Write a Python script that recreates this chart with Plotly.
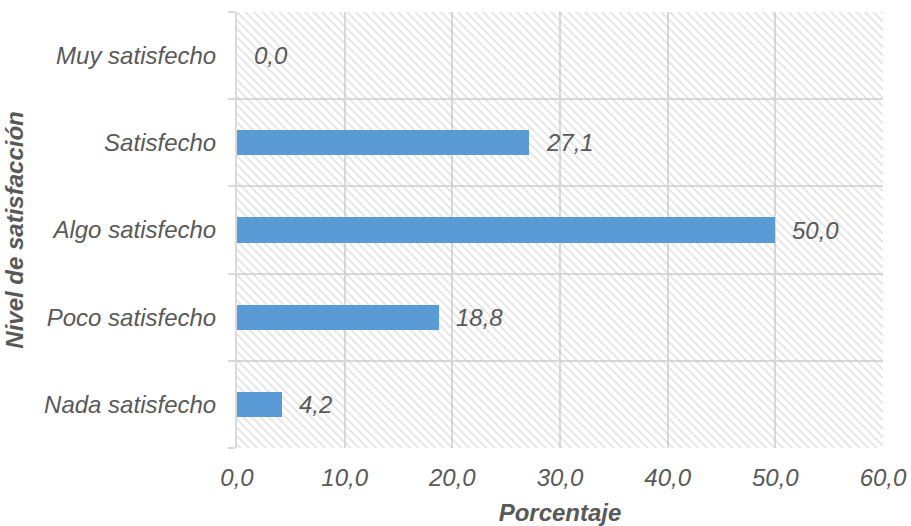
import plotly.graph_objects as go

# Survey results: percentage of respondents per satisfaction level
niveles = ["Nada satisfecho", "Poco satisfecho", "Algo satisfecho", "Satisfecho", "Muy satisfecho"]
porcentajes = [4.2, 18.8, 50.0, 27.1, 0.0]
x_ticks = [0, 10, 20, 30, 40, 50, 60]

GRID = "#d9d9d9"
TEXT = "#595959"
FONT = "Liberation Sans, Arial, sans-serif"
FS = 24

pos = list(range(len(niveles)))

fig = go.Figure()

# Hatched plot-area background (transparent bar with diagonal pattern on base axes)
fig.add_trace(go.Bar(
    x=[1], y=[0.5], base=[0], width=[1], orientation="h",
    marker=dict(color="rgba(0,0,0,0)", line=dict(width=0),
                pattern=dict(shape="\\", fgcolor="#c6c6c6", bgcolor="rgba(0,0,0,0)",
                             size=6, solidity=0.3, fillmode="overlay")),
    hoverinfo="skip", showlegend=False, xaxis="x", yaxis="y",
))

# Data bars
fig.add_trace(go.Bar(
    x=porcentajes, y=pos, orientation="h", width=0.29,
    marker=dict(color="#5b9bd5", line=dict(width=0)),
    showlegend=False, xaxis="x2", yaxis="y2", cliponaxis=False,
))

annotations = [
    dict(x=v, y=p, xref="x2", yref="y2", text=f"{v:.1f}".replace(".", ","),
         xanchor="left", yanchor="middle", xshift=15, showarrow=False,
         font=dict(family=FONT, size=FS, color=TEXT, style="italic"))
    for v, p in zip(porcentajes, pos)
]

fig.update_layout(
    width=911, height=526,
    margin=dict(l=237, r=28, t=12, b=78),
    paper_bgcolor="white", plot_bgcolor="white",
    separators=",.",
    bargap=0,
    annotations=annotations,
    xaxis=dict(range=[0, 1], visible=False, fixedrange=True),
    yaxis=dict(range=[0, 1], visible=False, fixedrange=True),
    xaxis2=dict(
        overlaying="x", range=[0, 60], tickvals=x_ticks, tickformat=".1f",
        showgrid=True, gridcolor=GRID, gridwidth=2, zeroline=False,
        showline=False, ticks="", ticklabelstandoff=13, automargin=False,
        tickfont=dict(family=FONT, size=FS, color=TEXT, style="italic"),
        title=dict(text="Porcentaje", standoff=14,
                   font=dict(family=FONT, size=FS, color=TEXT, style="italic", weight="bold")),
    ),
    yaxis2=dict(
        overlaying="y", range=[-0.5, 4.5], tickvals=pos, ticktext=niveles,
        showgrid=False, zeroline=False, ticks="", ticklabelstandoff=14, automargin=False,
        showline=True, linecolor=GRID, linewidth=2,
        minor=dict(tickvals=[i - 0.5 for i in range(len(niveles) + 1)],
                   showgrid=True, gridcolor=GRID, gridwidth=2,
                   ticks="outside", ticklen=7, tickcolor=GRID, tickwidth=2),
        tickfont=dict(family=FONT, size=FS, color=TEXT, style="italic"),
        title=dict(text="Nivel de satisfacción", standoff=14,
                   font=dict(family=FONT, size=FS, color=TEXT, style="italic", weight="bold")),
    ),
)

fig.write_html("out.html")
